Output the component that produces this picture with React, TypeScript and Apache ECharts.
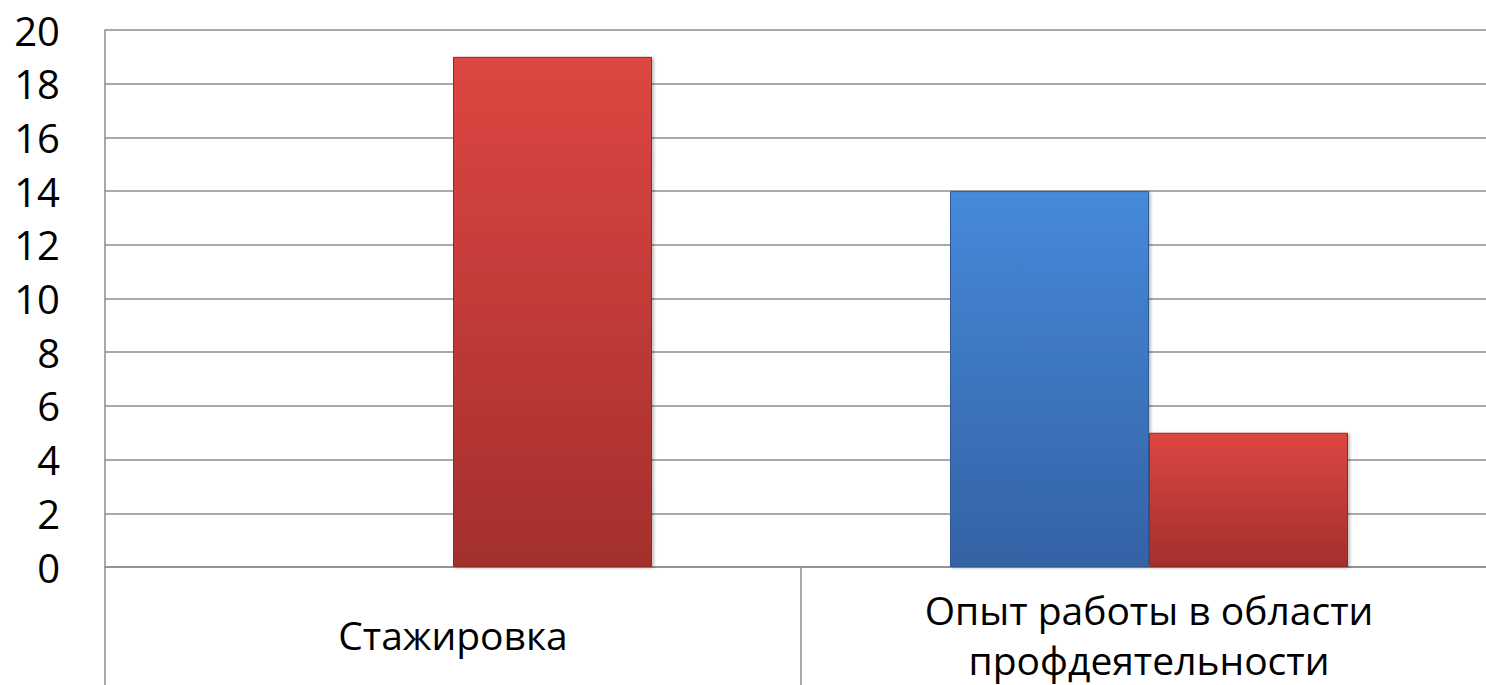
import React, { useEffect, useRef } from "react";
import * as echarts from "echarts";

const categories = ["Стажировка", "Опыт работы в области\nпрофдеятельности"];
const blueValues: (number | null)[] = [null, 14];
const redValues: (number | null)[] = [19, 5];
const yMin = 0;
const yMax = 20;
const yStep = 2;

const FONT = "'Open Sans', 'Noto Sans', sans-serif";

export default function App() {
  const ref = useRef<HTMLDivElement>(null);
  useEffect(() => {
    if (!ref.current) return;
    const chart = echarts.init(ref.current, undefined, { renderer: "svg" });
    const grad = (top: string, bottom: string) =>
      new echarts.graphic.LinearGradient(0, 0, 0, 1, [
        { offset: 0, color: top },
        { offset: 1, color: bottom },
      ]);
    chart.setOption({
      animation: false,
      backgroundColor: "#ffffff",
      grid: {
        left: 105,
        top: 30,
        width: 1392,
        bottom: 118,
        containLabel: false,
        outerBoundsMode: "none",
      },
      xAxis: {
        type: "category",
        data: categories,
        boundaryGap: true,
        axisLine: { show: true, lineStyle: { color: "#8c8c8c", width: 1.5 } },
        axisTick: {
          show: true,
          interval: 0,
          length: 118,
          lineStyle: { color: "#8c8c8c", width: 1.5 },
        },
        axisLabel: {
          interval: 0,
          fontFamily: FONT,
          fontSize: 39,
          color: "#000",
          lineHeight: 50,
          verticalAlign: "middle",
          margin: 67,
        },
      },
      yAxis: {
        type: "value",
        min: yMin,
        max: yMax,
        interval: yStep,
        axisLine: { show: true, lineStyle: { color: "#8c8c8c", width: 1.5 } },
        axisTick: { show: false },
        splitLine: { show: true, lineStyle: { color: "#8c8c8c", width: 1.5 } },
        axisLabel: {
          fontFamily: FONT,
          fontSize: 40,
          color: "#000",
          margin: 45,
        },
      },
      series: [
        {
          type: "bar",
          data: blueValues,
          barWidth: 199,
          barGap: "0%",
          itemStyle: {
            color: grad("#4689da", "#3462a4"),
            borderColor: "#2f5a94",
            borderWidth: 1,
            shadowBlur: 3,
            shadowOffsetX: 2,
            shadowOffsetY: 1,
            shadowColor: "rgba(0,0,0,0.25)",
          },
        },
        {
          type: "bar",
          data: redValues,
          barWidth: 199,
          barGap: "0%",
          itemStyle: {
            color: grad("#dd4642", "#a42f2d"),
            borderColor: "#8f2a28",
            borderWidth: 1,
            shadowBlur: 3,
            shadowOffsetX: 2,
            shadowOffsetY: 1,
            shadowColor: "rgba(0,0,0,0.25)",
          },
        },
      ],
    });
    return () => chart.dispose();
  }, []);
  return (
    <div
      ref={ref}
      style={{ position: "absolute", left: 0, top: 0, width: 1486, height: 685 }}
    />
  );
}
